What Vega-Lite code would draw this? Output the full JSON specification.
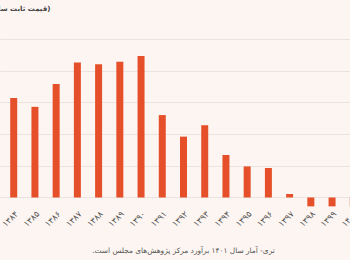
{
  "$schema": "https://vega.github.io/schema/vega-lite/v6.json",
  "width": 350,
  "height": 168,
  "autosize": {"type": "none"},
  "padding": {"left": 0, "top": 39, "right": 0, "bottom": 53},
  "background": "#fdf5f2",
  "title": {
    "text": "‏تری- آمار سال ۱۴۰۱ برآورد مرکز پژوهش‌های مجلس است.‏",
    "orient": "bottom",
    "anchor": "start",
    "align": "right",
    "dx": 306,
    "offset": 19,
    "font": "DejaVu Sans",
    "fontSize": 7.4,
    "fontWeight": "normal",
    "color": "#555555"
  },
  "data": {
    "values": [
      {"year": "۱۳۸۴", "value": 15.7},
      {"year": "۱۳۸۵", "value": 14.3},
      {"year": "۱۳۸۶", "value": 17.9},
      {"year": "۱۳۸۷", "value": 21.3},
      {"year": "۱۳۸۸", "value": 21.0},
      {"year": "۱۳۸۹", "value": 21.4},
      {"year": "۱۳۹۰", "value": 22.3},
      {"year": "۱۳۹۱", "value": 13.0},
      {"year": "۱۳۹۲", "value": 9.6},
      {"year": "۱۳۹۳", "value": 11.4},
      {"year": "۱۳۹۴", "value": 6.7},
      {"year": "۱۳۹۵", "value": 4.9},
      {"year": "۱۳۹۶", "value": 4.65},
      {"year": "۱۳۹۷", "value": 0.55},
      {"year": "۱۳۹۸", "value": -1.4},
      {"year": "۱۳۹۹", "value": -1.4},
      {"year": "۱۴۰۰", "value": -1.4}
    ]
  },
  "mark": {"type": "bar", "size": 7, "color": "#e5502a", "clip": true},
  "encoding": {
    "x": {
      "field": "year",
      "type": "ordinal",
      "sort": null,
      "scale": {"range": [0, 367], "paddingInner": 0, "paddingOuter": 0.146},
      "axis": {
        "title": null,
        "labelAngle": -45,
        "labelFont": "DejaVu Sans",
        "labelFontSize": 8.5,
        "labelColor": "#555555",
        "ticks": false,
        "domain": false,
        "labelPadding": 2
      }
    },
    "y": {
      "field": "value",
      "type": "quantitative",
      "scale": {"domain": [-1.5, 25], "nice": false},
      "axis": {
        "title": "(قیمت ثابت سال ۱۳۹۰)",
        "titleAngle": 0,
        "titleX": 50,
        "titleY": -31,
        "titleAlign": "right",
        "titleBaseline": "middle",
        "titleFont": "DejaVu Sans",
        "titleFontSize": 7,
        "titleFontWeight": "bold",
        "titleColor": "#444444",
        "labels": false,
        "ticks": false,
        "domain": false,
        "grid": true,
        "gridColor": "#ebe3e0",
        "gridWidth": 1,
        "values": [0, 5, 10, 15, 20, 25]
      }
    }
  },
  "config": {"view": {"stroke": null}}
}
